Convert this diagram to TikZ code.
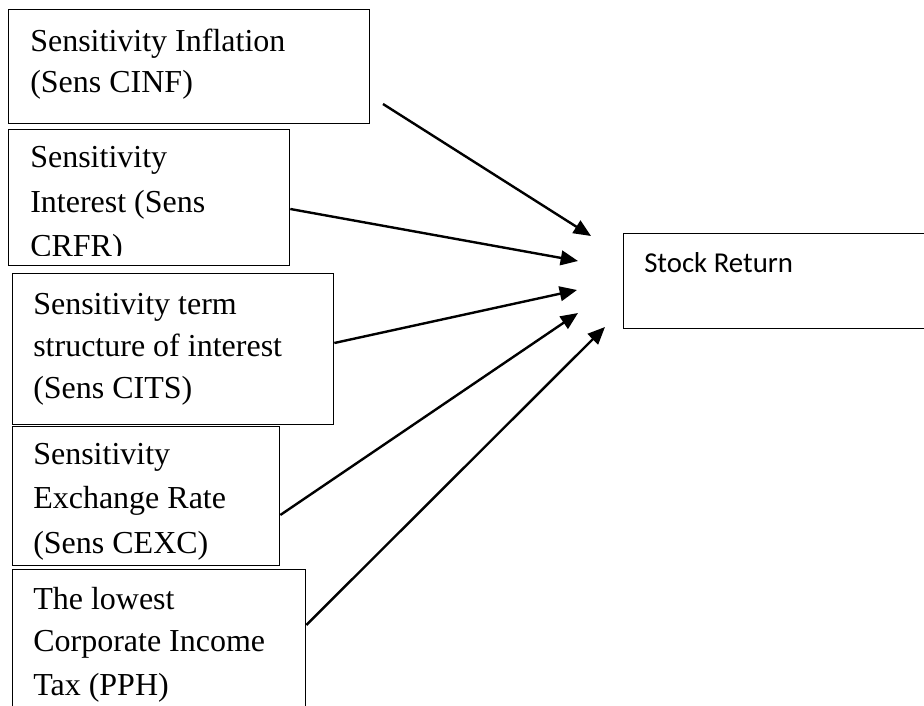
\documentclass[tikz,border=0pt]{standalone}
\usepackage{fontspec}
\setmainfont{Liberation Serif}
\newfontfamily\calfont{Carlito}
\usetikzlibrary{arrows.meta,calc}
\begin{document}
\begin{tikzpicture}[x=0.75pt,y=-0.75pt,
  box/.style={draw, line width=1pt, inner sep=0pt, anchor=north west},
  txt/.style={anchor=base west, inner sep=0pt, font=\fontsize{24}{29}\selectfont},
  arr/.style={line width=1.8pt, -{Triangle[length=13pt,width=11pt]}}]
\useasboundingbox (0,0) rectangle (924,706);
% boxes
\node[box, minimum width=361*0.75pt, minimum height=114*0.75pt] (b1) at (8,9) {};
\node[box, minimum width=281*0.75pt, minimum height=136*0.75pt] (b2) at (8,129) {};
\node[box, minimum width=321*0.75pt, minimum height=150.5*0.75pt] (b3) at (12,273) {};
\node[box, minimum width=267*0.75pt, minimum height=139.5*0.75pt] (b4) at (12,425.5) {};
\node[box, minimum width=293*0.75pt, minimum height=160*0.75pt] (b5) at (12,569) {};
\node[box, minimum width=320*0.75pt, minimum height=95*0.75pt] (sr) at (623,233) {};
% texts
\node[txt] (l11) at (30,52) {Sensitivity Inflation};
\node[txt] (l12) at (30,93) {(Sens CINF)};
\node[txt] (l21) at (30,168) {Sensitivity};
\node[txt] (l22) at (30,212) {Interest (Sens};
\begin{scope}
\clip (8,129) rectangle (289,255);
\node[txt] (l23) at (30,256) {CRFR)};
\end{scope}
\node[txt] (l31) at (33,314) {Sensitivity term};
\node[txt] (l32) at (33,356) {structure of interest};
\node[txt] (l33) at (33,398) {(Sens CITS)};
\node[txt] (l41) at (33,464) {Sensitivity};
\node[txt] (l42) at (33,508) {Exchange Rate};
\node[txt] (l43) at (33,553) {(Sens CEXC)};
\node[txt] (l51) at (33,609) {The lowest};
\node[txt] (l52) at (33,651) {Corporate Income};
\node[txt] (l53) at (33,695) {Tax (PPH)};
\node[anchor=base west, inner sep=0pt, font=\calfont\fontsize{21.6}{26}\selectfont] (srt) at (644,272) {Stock Return};
% arrows
\coordinate (s1) at (383,104);
\coordinate (t1) at (591,236);
\coordinate (t2) at (578,261);
\coordinate (t3) at (577,290);
\coordinate (t4) at (578,313);
\coordinate (t5) at (605,327);
\draw[arr] (s1) -- (t1);
\draw[arr] ($(b2.north east)+(0,80)$) -- (t2);
\draw[arr] ($(b3.north east)+(0,70)$) -- (t3);
\draw[arr] ($(b4.north east)+(0,89.5)$) -- (t4);
\draw[arr] ($(b5.north east)+(0,56)$) -- (t5);
\end{tikzpicture}
\end{document}
